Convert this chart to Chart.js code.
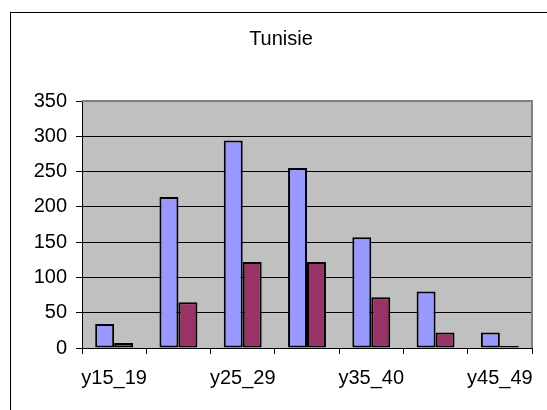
<!DOCTYPE html>
<html>
<head>
<meta charset="utf-8">
<script src="https://cdn.jsdelivr.net/npm/chart.js@4/dist/chart.umd.min.js"></script>
<style>
  html, body { margin: 0; padding: 0; background: #fff; }
  canvas { display: block; }
</style>
</head>
<body>
<canvas id="chart" width="547" height="410"></canvas>
<script>
const categories = ['y15_19', 'y20_24', 'y25_29', 'y30_34', 'y35_40', 'y40_44', 'y45_49'];
const serie1 = [34, 214, 294, 255, 157, 80, 22];
const serie2 = [7, 65, 122, 122, 72, 22, 3];
const yTicks = [0, 50, 100, 150, 200, 250, 300, 350];

const fontFamily = '"Liberation Sans", Arial, sans-serif';

// grey plot area, grey top/right edges and the outer chart frame
const excelLook = {
    id: 'excelLook',
    beforeDraw(chart) {
        const ctx = chart.ctx;
        const a = chart.chartArea;
        ctx.save();
        ctx.fillStyle = '#fff';
        ctx.fillRect(0, 0, chart.width, chart.height);
        ctx.strokeStyle = '#000';
        ctx.lineWidth = 1;
        ctx.strokeRect(10.5, 12.5, chart.width + 20, chart.height + 20);
        ctx.fillStyle = '#c0c0c0';
        ctx.fillRect(a.left, a.top, a.right - a.left, a.bottom - a.top);
        ctx.restore();
    },
    afterDatasetsDraw(chart) {
        const ctx = chart.ctx;
        const a = chart.chartArea;
        ctx.save();
        ctx.strokeStyle = '#808080';
        ctx.lineWidth = 2;
        ctx.beginPath();
        ctx.moveTo(a.left, a.top);
        ctx.lineTo(a.right, a.top);
        ctx.lineTo(a.right, a.bottom);
        ctx.stroke();
        ctx.restore();
    }
};

new Chart(document.getElementById('chart').getContext('2d'), {
    type: 'bar',
    data: {
        labels: categories,
        datasets: [{
            label: 'Série1',
            data: serie1,
            backgroundColor: '#9999ff',
            borderColor: '#000',
            borderWidth: 2,
            borderSkipped: false,
            categoryPercentage: 0.59,
            barPercentage: 1
        }, {
            label: 'Série2',
            data: serie2,
            backgroundColor: '#993366',
            borderColor: '#000',
            borderWidth: 2,
            borderSkipped: false,
            categoryPercentage: 0.59,
            barPercentage: 1
        }]
    },
    options: {
        responsive: false,
        animation: false,
        layout: { padding: { left: 15, right: 0, top: 0, bottom: 12 } },
        plugins: {
            legend: { display: false },
            tooltip: { enabled: false },
            title: {
                display: true,
                text: 'Tunisie',
                color: '#000',
                font: { family: fontFamily, size: 20, weight: 'normal' },
                padding: { top: 27, bottom: 50 }
            }
        },
        scales: {
            x: {
                offset: true,
                afterFit(scale) { scale.height = 50; },
                grid: {
                    offset: true,
                    drawOnChartArea: false,
                    drawTicks: true,
                    tickLength: 6,
                    color: '#000'
                },
                border: { color: '#000', width: 1 },
                ticks: {
                    autoSkip: false,
                    maxRotation: 0,
                    padding: 12,
                    color: '#000',
                    font: { family: fontFamily, size: 20 },
                    callback: (v, i) => (i % 2 === 0 ? categories[i] : '')
                }
            },
            y: {
                min: yTicks[0],
                max: yTicks[yTicks.length - 1],
                afterFit(scale) { scale.width = 67; },
                afterBuildTicks(scale) { scale.ticks = yTicks.map(v => ({ value: v })); },
                grid: {
                    color: '#000',
                    tickLength: 6,
                    drawTicks: true
                },
                border: { color: '#000', width: 1 },
                ticks: {
                    padding: 9,
                    color: '#000',
                    font: { family: fontFamily, size: 20 }
                }
            },
            // empty spacer on the right so the plot stops at the same place as the original
            yRight: {
                position: 'right',
                afterFit(scale) { scale.width = 15; },
                grid: { display: false, drawTicks: false },
                border: { display: false },
                ticks: { display: false }
            }
        }
    },
    plugins: [excelLook]
});
</script>
</body>
</html>
